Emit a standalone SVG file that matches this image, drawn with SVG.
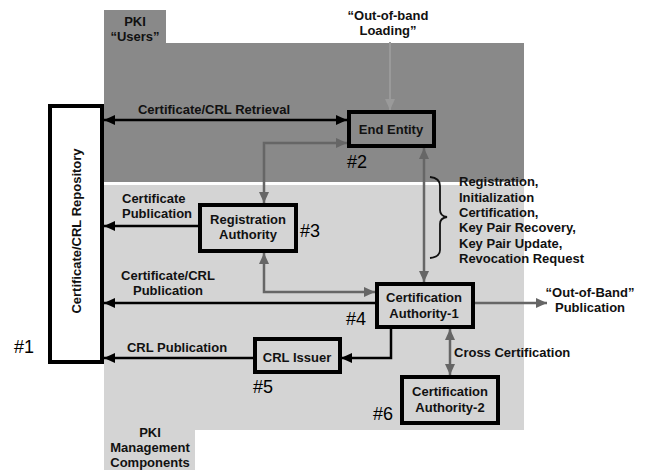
<svg xmlns="http://www.w3.org/2000/svg" width="656" height="470" viewBox="0 0 656 470">
<style>
.t{font-family:"Liberation Sans",Arial,sans-serif;font-size:13px;font-weight:bold;fill:#111}
.m{text-anchor:middle}
.n{font-family:"Liberation Sans",Arial,sans-serif;font-size:18px;fill:#000}
.box{stroke:#000;stroke-width:4}
.k{fill:none;stroke:#000;stroke-width:2.5}
.g{fill:none;stroke:#666;stroke-width:2.5}
.lg{fill:none;stroke:#9a9a9a;stroke-width:2}
</style>
<defs>
<marker id="ak" markerUnits="userSpaceOnUse" markerWidth="12" markerHeight="10" refX="11" refY="5" orient="auto-start-reverse"><path d="M0,0 L11,5 L0,10 z" fill="#000"/></marker>
<marker id="ag" markerUnits="userSpaceOnUse" markerWidth="12" markerHeight="10" refX="11" refY="5" orient="auto-start-reverse"><path d="M0,0 L11,5 L0,10 z" fill="#666"/></marker>
<marker id="alg" markerUnits="userSpaceOnUse" markerWidth="12" markerHeight="10" refX="11" refY="5" orient="auto-start-reverse"><path d="M0,0 L11,5 L0,10 z" fill="#9a9a9a"/></marker>
</defs>
<rect width="656" height="470" fill="#fff"/>
<g id="zone-users">
<path d="M104,10 H166 V43 H524 V182 H104 Z" fill="#898989"/>
<text class="t m" x="135" y="26">PKI</text>
<text class="t m" x="135" y="41">“Users”</text>
</g>
<g id="zone-management">
<path d="M104,185 H524 V430 H195 V470 H104 Z" fill="#d4d4d4"/>
<text class="t m" x="150" y="437">PKI</text>
<text class="t m" x="150" y="452">Management</text>
<text class="t m" x="150" y="467">Components</text>
</g>
<g id="connectors">
<line class="k" x1="104" y1="120" x2="347" y2="120" marker-start="url(#ak)" marker-end="url(#ak)"/>
<path class="g" d="M347,143 H264 V203" marker-start="url(#ag)" marker-end="url(#ag)"/>
<line class="lg" x1="390" y1="42" x2="390" y2="110" marker-end="url(#alg)"/>
<line class="g" x1="424" y1="148" x2="424" y2="282" marker-start="url(#ag)" marker-end="url(#ag)"/>
<line class="k" x1="200" y1="226" x2="104" y2="226" marker-end="url(#ak)"/>
<path class="g" d="M264,253 V292 H375" marker-start="url(#ag)" marker-end="url(#ag)"/>
<line class="k" x1="375" y1="303" x2="104" y2="303" marker-end="url(#ak)"/>
<line class="g" x1="474" y1="303" x2="547" y2="303" marker-end="url(#ag)"/>
<path class="k" d="M391,329 V358 H341" marker-end="url(#ak)"/>
<line class="k" x1="253" y1="358" x2="104" y2="358" marker-end="url(#ak)"/>
<line class="g" x1="450" y1="329" x2="450" y2="375" marker-start="url(#ag)" marker-end="url(#ag)"/>
<path d="M430,177 Q440,178 440,186 V210 Q440,216 447,217 Q440,218 440,224 V250 Q440,257 430,258" fill="none" stroke="#111" stroke-width="1.8"/>
<text class="t m" x="214" y="114">Certificate/CRL Retrieval</text>
<text class="t m" x="388" y="20">“Out-of-band</text>
<text class="t m" x="388" y="35">Loading”</text>
<text class="t" x="122" y="203">Certificate</text>
<text class="t" x="122" y="218">Publication</text>
<text class="t m" x="168" y="280">Certificate/CRL</text>
<text class="t m" x="168" y="295">Publication</text>
<text class="t m" x="177" y="352">CRL Publication</text>
<text class="t m" x="590" y="297">“Out-of-Band”</text>
<text class="t m" x="590" y="312">Publication</text>
<text class="t" x="454" y="357">Cross Certification</text>
<text class="t" x="459" y="186">Registration,</text>
<text class="t" x="459" y="202">Initialization</text>
<text class="t" x="459" y="217">Certification,</text>
<text class="t" x="459" y="232">Key Pair Recovery,</text>
<text class="t" x="459" y="248">Key Pair Update,</text>
<text class="t" x="459" y="263">Revocation Request</text>
</g>
<g id="repository">
<rect class="box" x="50" y="106" width="52" height="256" fill="#fff"/>
<text class="t m" transform="translate(81,231) rotate(-90)">Certificate/CRL Repository</text>
<text class="n" x="14" y="353">#1</text>
</g>
<g id="end-entity">
<rect class="box" x="349" y="112" width="85" height="34" fill="#898989"/>
<text class="t m" x="391" y="134">End Entity</text>
<text class="n" x="347" y="168">#2</text>
</g>
<g id="registration-authority">
<rect class="box" x="200" y="205" width="96" height="46" fill="#d4d4d4"/>
<text class="t m" x="248" y="224">Registration</text>
<text class="t m" x="248" y="239">Authority</text>
<text class="n" x="300" y="237">#3</text>
</g>
<g id="ca1">
<rect class="box" x="377" y="284" width="96" height="43" fill="#d4d4d4"/>
<text class="t m" x="424" y="302">Certification</text>
<text class="t m" x="424" y="318">Authority-1</text>
<text class="n" x="346" y="325">#4</text>
</g>
<g id="crl-issuer">
<rect class="box" x="255" y="339" width="85" height="33" fill="#d4d4d4"/>
<text class="t m" x="297" y="362">CRL Issuer</text>
<text class="n" x="253" y="393">#5</text>
</g>
<g id="ca2">
<rect class="box" x="402" y="377" width="96" height="46" fill="#d4d4d4"/>
<text class="t m" x="450" y="396">Certification</text>
<text class="t m" x="450" y="412">Authority-2</text>
<text class="n" x="373" y="420">#6</text>
</g>
</svg>
